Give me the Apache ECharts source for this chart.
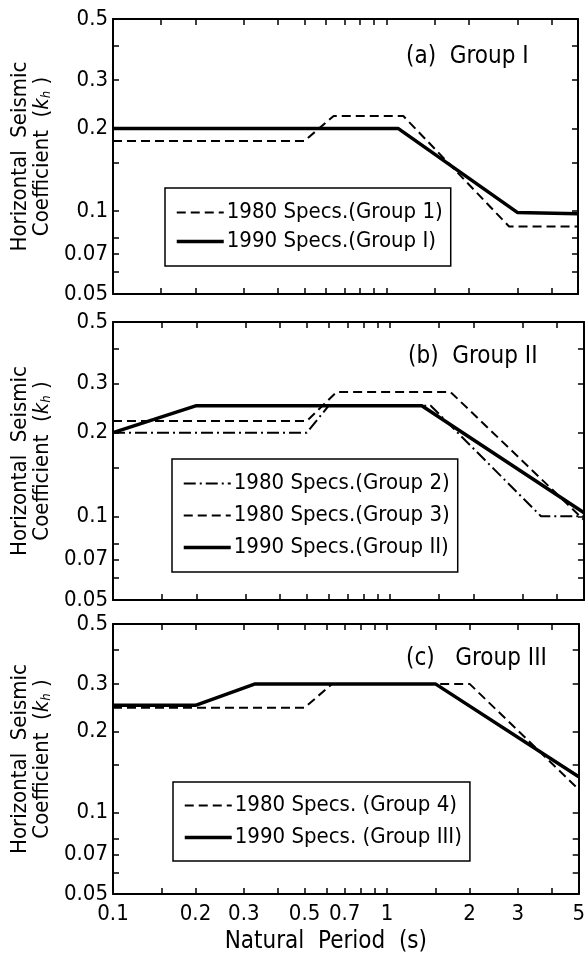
<!DOCTYPE html>
<html>
<head>
<meta charset="utf-8">
<script src="https://cdn.jsdelivr.net/npm/echarts@6/dist/echarts.min.js"></script>
<style>
html,body{margin:0;padding:0;background:#fff;}
#chart{width:588px;height:957px;}
</style>
</head>
<body>
<div id="chart"></div>
<script>
// ---- data ----
const xTicks = [0.1, 0.15, 0.2, 0.3, 0.4, 0.5, 0.6, 0.7, 0.8, 0.9, 1, 1.5, 2, 3, 4, 5];
const xTickLabels = [0.1, 0.2, 0.3, 0.5, 0.7, 1, 2, 3, 5];
const yTicks = [0.05, 0.06, 0.07, 0.08, 0.1, 0.15, 0.2, 0.3, 0.4, 0.5];
const yTickLabels = [0.05, 0.07, 0.1, 0.2, 0.3, 0.5];

const panelTitles = ['(a)  Group I', '(b)  Group II', '(c)   Group III'];

// Panel (a)
const periodA1980 = [0.1, 0.5, 0.64, 1.15, 2.8, 5];
const coefA1980   = [0.18, 0.18, 0.222, 0.222, 0.088, 0.088];
const periodA1990 = [0.1, 1.1, 3.0, 5];
const coefA1990   = [0.2, 0.2, 0.099, 0.098];

// Panel (b)
const periodB1980g2 = [0.1, 0.5, 0.6, 1.4, 3.5, 5];
const coefB1980g2   = [0.2, 0.2, 0.25, 0.25, 0.1, 0.1];
const periodB1980g3 = [0.1, 0.5, 0.64, 1.65, 5];
const coefB1980g3   = [0.22, 0.22, 0.28, 0.28, 0.097];
const periodB1990   = [0.1, 0.2, 1.3, 5];
const coefB1990     = [0.2, 0.25, 0.25, 0.103];

// Panel (c)
const periodC1980 = [0.1, 0.5, 0.63, 2.0, 5];
const coefC1980   = [0.245, 0.245, 0.3, 0.3, 0.122];
const periodC1990 = [0.1, 0.2, 0.33, 1.5, 5];
const coefC1990   = [0.25, 0.25, 0.3, 0.3, 0.136];

const namesA = ['1980 Specs.(Group 1)', '1990 Specs.(Group I)'];
const namesB = ['1980 Specs.(Group 2)', '1980 Specs.(Group 3)', '1990 Specs.(Group II)'];
const namesC = ['1980 Specs. (Group 4)', '1990 Specs. (Group III)'];

// ---- styling ----
const FONT = "'Liberation Sans Narrow', 'DejaVu Sans Condensed', 'Liberation Sans', sans-serif";
const grids = [
  {left: 113, top: 19,  width: 465, height: 275},
  {left: 113, top: 322, width: 471, height: 278},
  {left: 113, top: 624, width: 469, height: 270}
];

const zip = (a, b) => a.map((v, i) => [v, b[i]]);
const fmt = v => String(Number(v.toPrecision(3)));

const xAxes = [], yAxes = [];
grids.forEach((g, i) => {
  const common = {
    type: 'log', logBase: 10, gridIndex: i,
    axisLine: {show: true, lineStyle: {color: '#000', width: 2}},
    splitLine: {show: false}, minorTick: {show: false}, minorSplitLine: {show: false}
  };
  xAxes.push(Object.assign({}, common, {
    position: 'bottom', min: 0.1, max: 5,
    axisTick: {show: true, inside: true, length: 6, lineStyle: {color: '#000', width: 1.5}, customValues: xTicks},
    axisLabel: {show: i === 2, customValues: xTickLabels, formatter: fmt, color: '#000',
      fontFamily: FONT, fontSize: 22, margin: 9},
    name: i === 2 ? 'Natural  Period  (s)' : '',
    nameLocation: 'middle', nameGap: 36,
    nameTextStyle: {color: '#000', fontFamily: FONT, fontSize: 24, padding: [0, 40, 0, 0]}
  }));
  xAxes.push(Object.assign({}, common, {
    position: 'top', min: 0.1, max: 5,
    axisTick: {show: true, inside: true, length: 6, lineStyle: {color: '#000', width: 1.5}, customValues: xTicks},
    axisLabel: {show: false}
  }));
  yAxes.push(Object.assign({}, common, {
    position: 'left', min: 0.05, max: 0.5,
    axisTick: {show: true, inside: true, length: 6, lineStyle: {color: '#000', width: 1.5}, customValues: yTicks},
    axisLabel: {show: true, customValues: yTickLabels, formatter: fmt, color: '#000',
      fontFamily: FONT, fontSize: 22, margin: 5},
    name: 'Horizontal  Seismic\nCoefficient  ({k|k}{h|h} )',
    nameLocation: 'middle', nameRotate: 90, nameGap: 56,
    nameTextStyle: {color: '#000', fontFamily: FONT, fontSize: 22, lineHeight: 22,
      rich: {
        k: {fontFamily: FONT, fontSize: 22, fontStyle: 'italic', color: '#000', lineHeight: 22},
        h: {fontFamily: FONT, fontSize: 13, fontStyle: 'italic', color: '#000', lineHeight: 13, verticalAlign: 'bottom'}
      }}
  }));
  yAxes.push(Object.assign({}, common, {
    position: 'right', min: 0.05, max: 0.5,
    axisTick: {show: true, inside: true, length: 6, lineStyle: {color: '#000', width: 1.5}, customValues: yTicks},
    axisLabel: {show: false}
  }));
});

const solid = {color: '#000', width: 3.5, type: 'solid'};
const dashed = {color: '#000', width: 2, type: [9, 5]};
const dashDot = {color: '#000', width: 2, type: [12, 4, 2, 4]};
const styleOf = {};

function line(name, px, py, gi, style) {
  styleOf[name] = style;
  return {
    type: 'line', name: name, xAxisIndex: gi * 2, yAxisIndex: gi * 2,
    data: zip(px, py), symbol: 'none', lineStyle: style, color: '#000',
    animation: false, silent: true, z: style === solid ? 3 : 2
  };
}

const series = [
  line(namesA[0], periodA1980, coefA1980, 0, dashed),
  line(namesA[1], periodA1990, coefA1990, 0, solid),
  line(namesB[0], periodB1980g2, coefB1980g2, 1, dashDot),
  line(namesB[1], periodB1980g3, coefB1980g3, 1, dashed),
  line(namesB[2], periodB1990, coefB1990, 1, solid),
  line(namesC[0], periodC1980, coefC1980, 2, dashed),
  line(namesC[1], periodC1990, coefC1990, 2, solid)
];

function legend(names, left, top, gap, padV) {
  return {
    data: names.map(n => ({name: n, lineStyle: Object.assign({}, styleOf[n])})),
    orient: 'vertical', left: left, top: top,
    backgroundColor: '#fff', borderColor: '#000', borderWidth: 1.5, borderRadius: 0,
    padding: [padV, 8, padV, 10], itemWidth: 47, itemHeight: 14, itemGap: gap,
    selectedMode: false,
    itemStyle: {color: 'rgba(0,0,0,0)', borderWidth: 0, borderColor: 'rgba(0,0,0,0)'},
    textStyle: {color: '#000', fontFamily: FONT, fontSize: 22, lineHeight: 25, padding: [0, 0, 0, -2]}
  };
}

const option = {
  backgroundColor: '#fff',
  animation: false,
  grid: grids.map(g => Object.assign({containLabel: false}, g)),
  xAxis: xAxes,
  yAxis: yAxes,
  title: [
    {text: panelTitles[0], left: 406, top: 45},
    {text: panelTitles[1], left: 408, top: 345},
    {text: panelTitles[2], left: 406, top: 647}
  ].map(t => Object.assign(t, {padding: 0, textStyle: {color: '#000', fontFamily: FONT, fontSize: 24, fontWeight: 'normal'}})),
  legend: [
    legend(namesA, 165, 188, 4, 12),
    legend(namesB, 172, 459, 7, 12),
    legend(namesC, 173, 782, 7, 11)
  ],
  series: series
};

const chart = echarts.init(document.getElementById('chart'), null, {renderer: 'canvas'});
chart.setOption(option);
</script>
</body>
</html>
